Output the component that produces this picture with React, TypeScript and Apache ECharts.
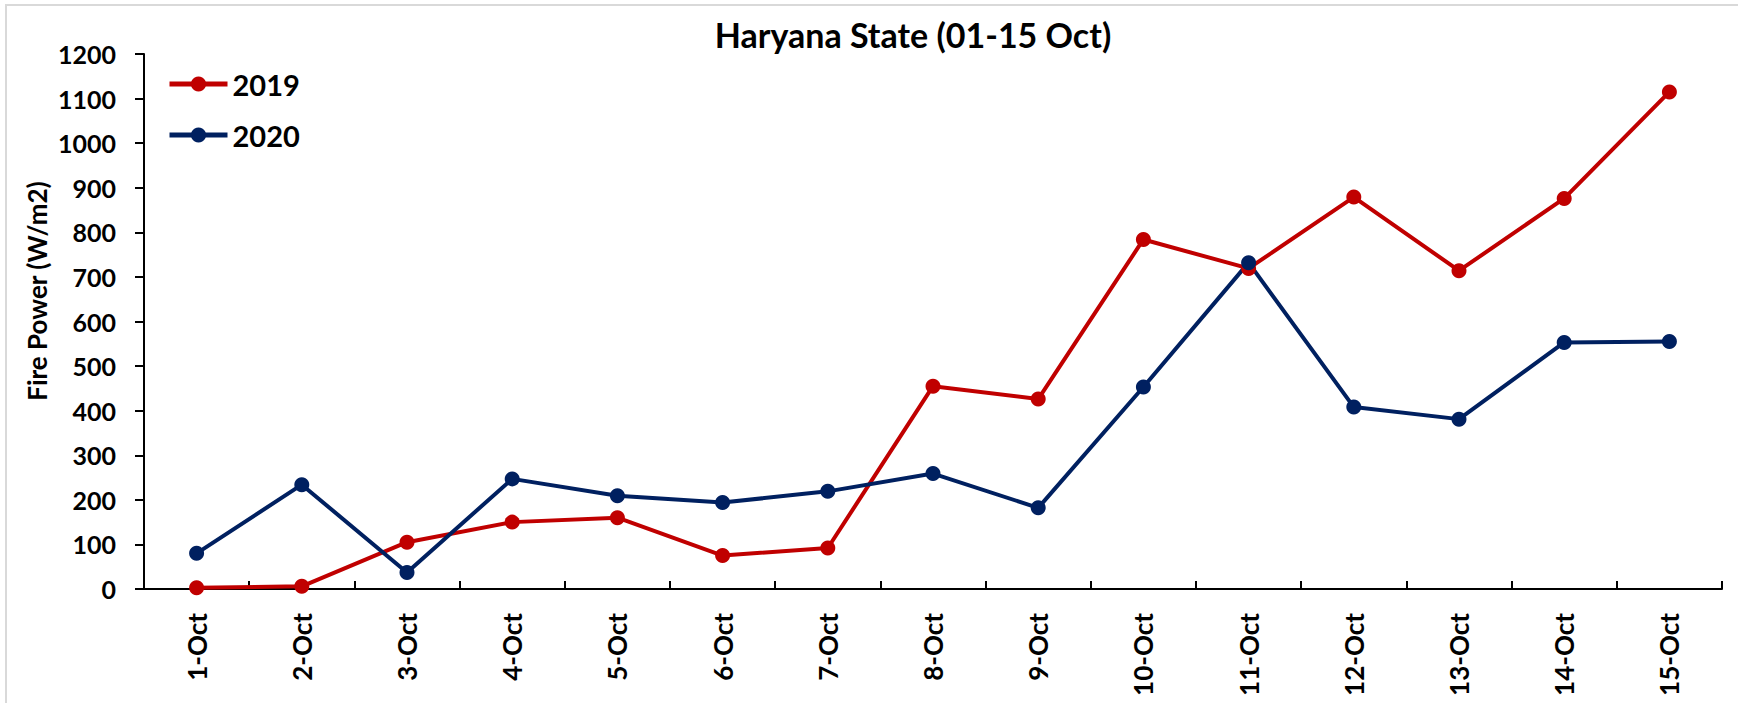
import React, { useEffect, useRef } from "react";
import * as echarts from "echarts";

const categories = [
  "1-Oct", "2-Oct", "3-Oct", "4-Oct", "5-Oct", "6-Oct", "7-Oct", "8-Oct",
  "9-Oct", "10-Oct", "11-Oct", "12-Oct", "13-Oct", "14-Oct", "15-Oct",
];
const values2019 = [3, 6, 105, 150, 160, 75, 92, 455, 426, 784, 719, 879, 714, 876, 1115];
const values2020 = [80, 234, 37, 247, 209, 194, 219, 259, 182, 453, 732, 408, 381, 553, 555];
const seriesNames = ["2019", "2020"];
const titleText = "Haryana State (01-15 Oct)";
const yAxisName = "Fire Power (W/m2)";

const FONT = "Lato, 'Open Sans', sans-serif";

export default function App() {
  const ref = useRef<HTMLDivElement>(null);

  useEffect(() => {
    if (!ref.current) return;
    const chart = echarts.init(ref.current, null, { renderer: "svg" });
    chart.setOption({
      animation: false,
      backgroundColor: "#ffffff",
      title: {
        text: titleText,
        left: 908,
        top: 12,
        textAlign: "center",
        textStyle: { fontFamily: FONT, fontWeight: "bold", fontSize: 34, color: "#000" },
      },
      legend: {
        orient: "vertical",
        left: 162,
        top: 64,
        itemWidth: 58,
        itemHeight: 19,
        itemGap: 21,
        data: seriesNames,
        lineStyle: { width: 5 },
        textStyle: { fontFamily: FONT, fontWeight: "bold", fontSize: 29, color: "#000", lineHeight: 30 },
      },
      graphic: [
        {
          type: "rect",
          silent: true,
          z: -10,
          shape: { x: 6, y: 5, width: 1800, height: 800 },
          style: { fill: "none", stroke: "#d9d9d9", lineWidth: 2 },
        },
        {
          type: "text",
          x: 37,
          y: 291,
          rotation: Math.PI / 2,
          style: {
            text: yAxisName,
            x: 0,
            y: 0,
            align: "center",
            verticalAlign: "middle",
            textAlign: "center",
            textVerticalAlign: "middle",
            fontFamily: FONT,
            fontWeight: "bold",
            fontSize: 26,
            fill: "#000",
          },
        },
      ],
      grid: { left: 144, right: 16, top: 54, bottom: 114, containLabel: false },
      xAxis: {
        type: "category",
        data: categories,
        boundaryGap: true,
        axisLine: { show: true, lineStyle: { color: "#000", width: 2 } },
        axisTick: { show: true, inside: true, length: 8, lineStyle: { color: "#000", width: 2 } },
        axisLabel: {
          rotate: 90,
          margin: 24,
          interval: 0,
          fontFamily: FONT,
          fontWeight: "bold",
          fontSize: 26,
          color: "#000",
        },
        splitLine: { show: false },
      },
      yAxis: {
        type: "value",
        min: 0,
        max: 1200,
        interval: 100,
        axisLine: { show: true, lineStyle: { color: "#000", width: 2 } },
        axisTick: { show: true, inside: false, length: 9, lineStyle: { color: "#000", width: 2 } },
        axisLabel: {
          margin: 28,
          formatter: (v: number) => String(v),
          fontFamily: FONT,
          fontWeight: "bold",
          fontSize: 25,
          color: "#000",
        },
        splitLine: { show: false },
      },
      series: [
        {
          name: seriesNames[0],
          type: "line",
          data: values2019,
          symbol: "circle",
          symbolSize: 15,
          color: "#C00000",
          lineStyle: { width: 4, color: "#C00000" },
          itemStyle: { color: "#C00000" },
        },
        {
          name: seriesNames[1],
          type: "line",
          data: values2020,
          symbol: "circle",
          symbolSize: 15,
          color: "#002060",
          lineStyle: { width: 4, color: "#002060" },
          itemStyle: { color: "#002060" },
        },
      ],
    });
    return () => chart.dispose();
  }, []);

  return (
    <div
      ref={ref}
      style={{ position: "absolute", left: 0, top: 0, width: 1738, height: 703 }}
    />
  );
}
